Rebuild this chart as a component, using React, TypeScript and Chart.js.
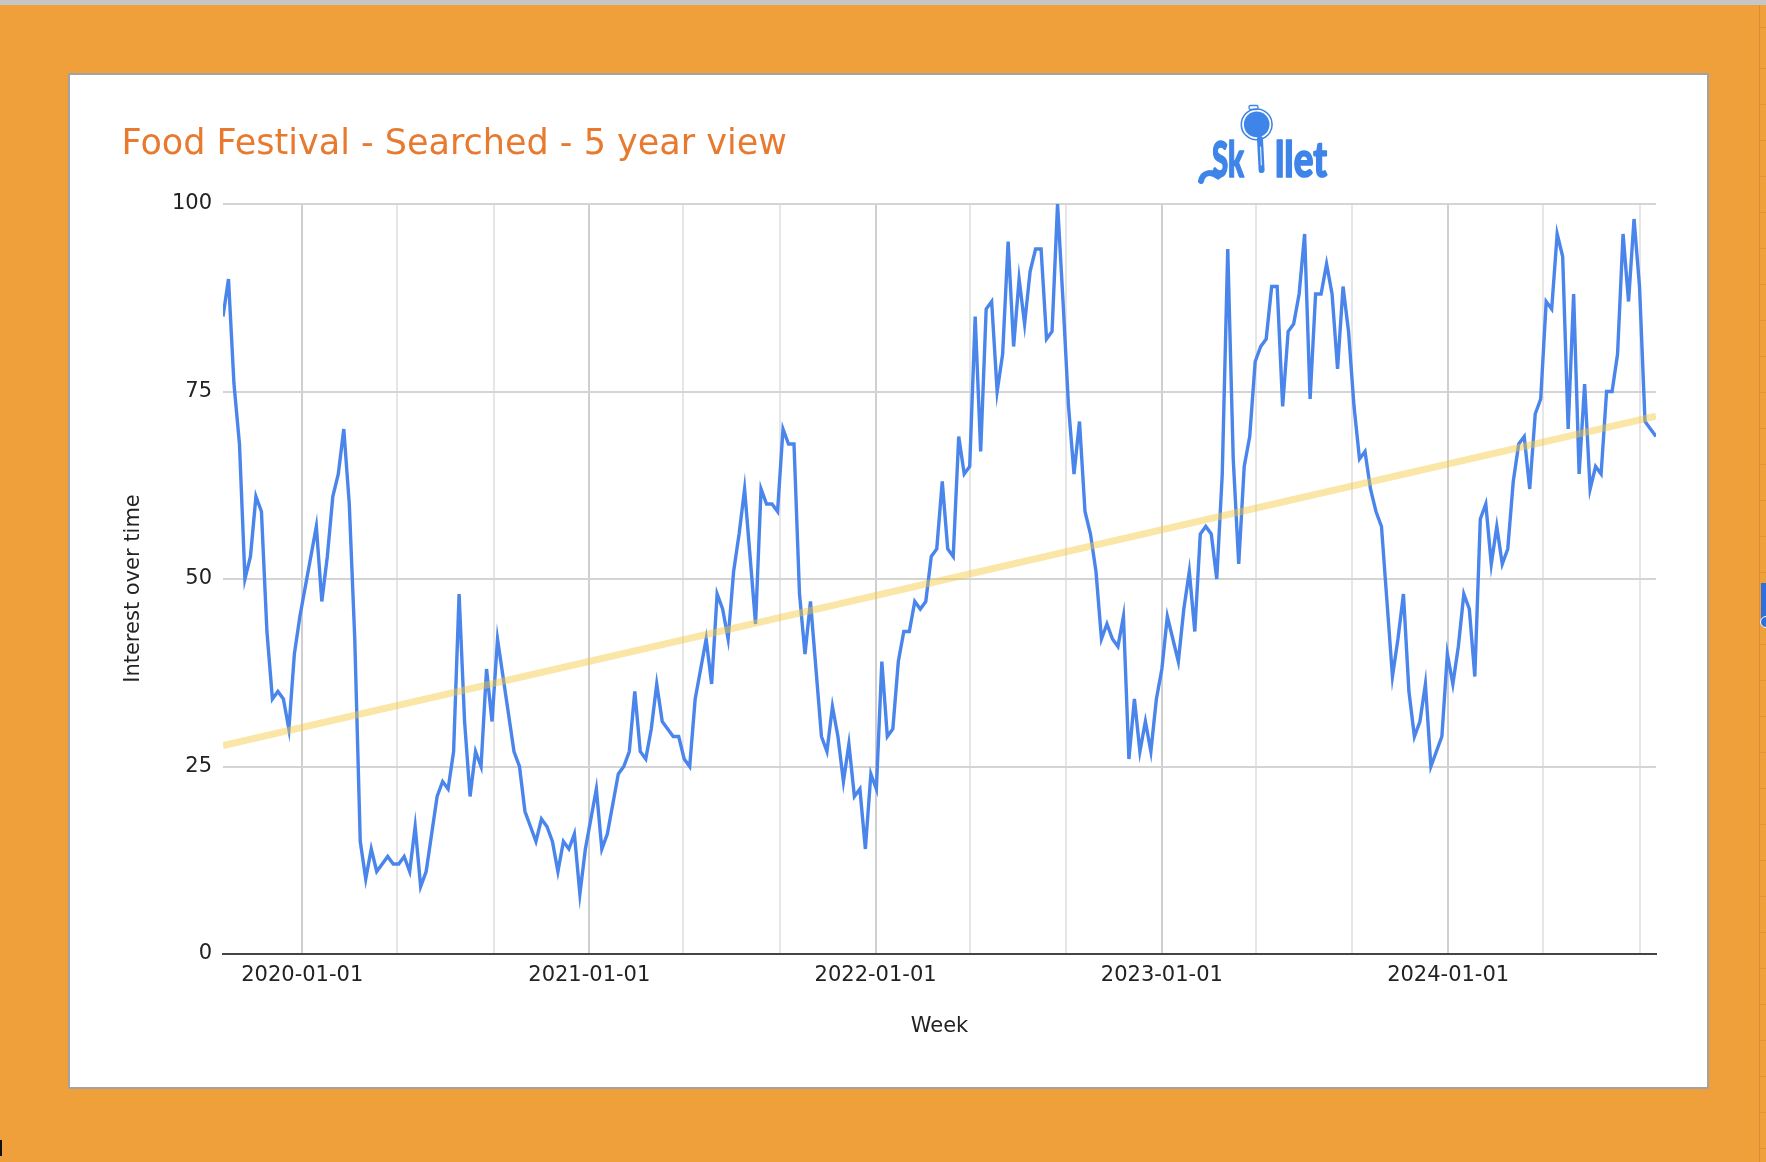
import React, { useEffect, useRef } from 'react';
import { Chart, registerables } from 'chart.js';

Chart.register(...registerables);

// ---- data ----
const firstWeek = '2019-09-22';

const interest = [
  85, 90, 76, 68, 50, 53, 61, 59, 43, 34, 35, 34, 30, 40, 45, 49, 53, 57, 47, 53,
  61, 64, 70, 60, 42, 15, 10, 14, 11, 12, 13, 12, 12, 13, 11, 17, 9, 11, 16, 21,
  23, 22, 27, 48, 31, 21, 27, 25, 38, 31, 42, 37, 32, 27, 25, 19, 17, 15, 18, 17,
  15, 11, 15, 14, 16, 8, 14, 18, 22, 14, 16, 20, 24, 25, 27, 35, 27, 26, 30, 36,
  31, 30, 29, 29, 26, 25, 34, 38, 42, 36, 48, 46, 42, 51, 56, 62, 53, 44, 62, 60,
  60, 59, 70, 68, 68, 48, 40, 47, 38, 29, 27, 33, 29, 23, 28, 21, 22, 14, 24, 22,
  39, 29, 30, 39, 43, 43, 47, 46, 47, 53, 54, 63, 54, 53, 69, 64, 65, 85, 67, 86,
  87, 75, 80, 95, 81, 90, 84, 91, 94, 94, 82, 83, 100, 87, 73, 64, 71, 59, 56, 51,
  42, 44, 42, 41, 45, 26, 34, 27, 31, 27, 34, 38, 45, 42, 39, 46, 51, 43, 56, 57,
  56, 50, 64, 94, 66, 52, 65, 69, 79, 81, 82, 89, 89, 73, 83, 84, 88, 96, 74, 88,
  88, 92, 88, 78, 89, 83, 73, 66, 67, 62, 59, 57, 47, 37, 42, 48, 35, 29, 31, 36,
  25, 27, 29, 40, 36, 41, 48, 46, 37, 58, 60, 52, 57, 52, 54, 63, 68, 69, 62, 72,
  74, 87, 86, 96, 93, 70, 88, 64, 76, 62, 65, 64, 75, 75, 80, 96, 87, 98, 89, 71,
  70, 69,
];

const trendStart = 27.8;
const trendEnd = 71.7;

const gridDates = [
  '2020-01-01', '2020-05-01', '2020-09-01',
  '2021-01-01', '2021-05-01', '2021-09-01',
  '2022-01-01', '2022-05-01', '2022-09-01',
  '2023-01-01', '2023-05-01', '2023-09-01',
  '2024-01-01', '2024-05-01', '2024-09-01',
];
const xTickLabels = [
  '2020-01-01', '', '',
  '2021-01-01', '', '',
  '2022-01-01', '', '',
  '2023-01-01', '', '',
  '2024-01-01', '', '',
];
const yTicks = [0, 25, 50, 75, 100];

const titleText = 'Food Festival - Searched - 5 year view';
const xTitle = 'Week';
const yTitle = 'Interest over time';

// ---- helpers ----
const DAY = 86400000;
const toMs = (s: string) => Date.parse(s + 'T00:00:00Z');

const FONT = 'DejaVu Sans, Verdana, sans-serif';
const BLUE = '#4A85EC';
const LOGO = '#3E84E9';

export default function App() {
  const canvasRef = useRef<HTMLCanvasElement | null>(null);

  useEffect(() => {
    const canvas = canvasRef.current;
    if (!canvas) return;
    const t0 = toMs(firstWeek);
    const weeks = interest.map((_, i) => t0 + i * 7 * DAY);
    const series = interest.map((v, i) => ({ x: weeks[i], y: v }));
    const last = weeks.length - 1;
    const trend = [
      { x: weeks[0], y: trendStart },
      { x: weeks[last], y: trendEnd },
    ];
    const tickFont = { family: FONT, size: 21 };

    const chart = new Chart(canvas, {
      type: 'line',
      data: {
        datasets: [
          {
            label: 'Trend',
            data: trend,
            borderColor: 'rgba(245, 200, 60, 0.45)',
            borderWidth: 7,
            pointRadius: 0,
            borderCapStyle: 'butt',
            order: 0,
          },
          {
            label: 'Interest over time',
            data: series,
            borderColor: BLUE,
            borderWidth: 3.4,
            pointRadius: 0,
            tension: 0,
            order: 1,
          },
        ],
      },
      options: {
        responsive: false,
        animation: false,
        devicePixelRatio: 1,
        layout: { padding: { left: 0, top: 204, right: 110, bottom: 0 } },
        plugins: {
          legend: { display: false },
          tooltip: { enabled: false },
          title: { display: false },
        },
        scales: {
          x: {
            type: 'linear',
            min: weeks[0],
            max: weeks[last],
            afterBuildTicks: (s: any) => {
              s.ticks = gridDates.map((d) => ({ value: toMs(d) }));
            },
            afterFit: (s: any) => {
              s.height = 208;
            },
            ticks: {
              autoSkip: false,
              maxRotation: 0,
              minRotation: 0,
              padding: 9,
              font: tickFont,
              color: '#222222',
              callback: (_v: any, i: number) => xTickLabels[i] ?? '',
            },
            grid: {
              drawTicks: false,
              lineWidth: 2,
              color: (ctx: any) => (xTickLabels[ctx.index] ? '#CFCFCF' : '#E6E6E6'),
            },
            border: { display: true, color: '#444444', width: 2 },
            title: {
              display: true,
              text: xTitle,
              font: tickFont,
              color: '#222222',
              padding: { top: 0, bottom: 123 },
            },
          },
          y: {
            type: 'linear',
            min: 0,
            max: 100,
            afterBuildTicks: (s: any) => {
              s.ticks = yTicks.map((v) => ({ value: v }));
            },
            afterFit: (s: any) => {
              s.width = 223;
            },
            ticks: {
              padding: 11,
              font: tickFont,
              color: '#222222',
            },
            grid: {
              drawTicks: false,
              lineWidth: 2,
              color: (ctx: any) => (ctx.tick && ctx.tick.value === 0 ? 'rgba(0,0,0,0)' : '#D4D4D4'),
            },
            border: { display: false },
            title: { display: false },
          },
        },
      },
    } as any);
    return () => chart.destroy();
  }, []);

  return (
    <div
      style={{
        position: 'fixed',
        left: 0,
        top: 0,
        width: 1766,
        height: 1162,
        overflow: 'hidden',
        background: '#F0A03A',
      }}
    >
      {/* top grey strip */}
      <div style={{ position: 'absolute', left: 0, top: 0, width: 1766, height: 5, background: '#C6C6C6' }} />
      {/* right spreadsheet edge */}
      <div
        style={{
          position: 'absolute',
          left: 1759,
          top: 5,
          width: 7,
          height: 1157,
          borderLeft: '1px solid #D98E34',
          backgroundImage: 'repeating-linear-gradient(to bottom, transparent 0px, transparent 35px, #E0933A 35px, #E0933A 36px)',
          backgroundPosition: '0 28px',
        }}
      />
      <div style={{ position: 'absolute', left: 1761, top: 583, width: 6, height: 37, background: '#2F6FDB' }} />
      <div
        style={{
          position: 'absolute',
          left: 1760,
          top: 616,
          width: 12,
          height: 12,
          borderRadius: 6,
          background: '#2F6FDB',
          border: '1.5px solid #fff',
          boxSizing: 'border-box',
        }}
      />
      <div style={{ position: 'absolute', left: 0, top: 1140, width: 2, height: 16, background: '#111' }} />
      {/* white panel */}
      <div
        style={{
          position: 'absolute',
          left: 68,
          top: 73,
          width: 1641,
          height: 1016,
          background: '#FFFFFF',
          border: '2px solid #A3A3A3',
          boxSizing: 'border-box',
        }}
      />
      <canvas
        ref={canvasRef}
        width={1766}
        height={1162}
        style={{ position: 'absolute', left: 0, top: 0, width: 1766, height: 1162 }}
      />
      <svg
        width={1766}
        height={1162}
        style={{ position: 'absolute', left: 0, top: 0, pointerEvents: 'none' }}
      >
        <text x={121.5} y={153.5} fontFamily={FONT} fontSize={35} fill="#E87A30">
          {titleText}
        </text>
        <text
          x={131.8}
          y={588.5}
          transform="rotate(-90 131.8 588.5)"
          textAnchor="middle"
          dominantBaseline="central"
          fontFamily={FONT}
          fontSize={21}
          fill="#222222"
        >
          {yTitle}
        </text>
        {/* Skillet logo */}
        <g>
          <rect x={1249} y={105.5} width={9} height={4} rx={1.5} fill="none" stroke={LOGO} strokeWidth={1.3} />
          <circle cx={1256.7} cy={124.4} r={15.4} fill="none" stroke={LOGO} strokeWidth={1.6} />
          <circle cx={1256.7} cy={124.4} r={12.8} fill={LOGO} />
          <line x1={1260} y1={139} x2={1261.6} y2={170} stroke={LOGO} strokeWidth={6} strokeLinecap="round" />
          <line x1={1260.6} y1={147} x2={1261.3} y2={165} stroke="#FFFFFF" strokeWidth={1} strokeLinecap="round" />
          <path d="M 1218 176.5 C 1211 171, 1203 172, 1201 181" fill="none" stroke={LOGO} strokeWidth={6} strokeLinecap="round" />
          <text
            x={1212}
            y={176.7}
            fontFamily="Lato, DejaVu Sans, sans-serif"
            fontWeight={900}
            fontSize={50}
            fill={LOGO}
            stroke={LOGO}
            strokeWidth={1.6}
            strokeLinejoin="round"
            textLength={32}
            lengthAdjust="spacingAndGlyphs"
          >
            Sk
          </text>
          <text
            x={1275}
            y={176.7}
            fontFamily="Lato, DejaVu Sans, sans-serif"
            fontWeight={900}
            fontSize={50}
            fill={LOGO}
            stroke={LOGO}
            strokeWidth={1.6}
            strokeLinejoin="round"
            textLength={52}
            lengthAdjust="spacingAndGlyphs"
          >
            llet
          </text>
        </g>
      </svg>
    </div>
  );
}
